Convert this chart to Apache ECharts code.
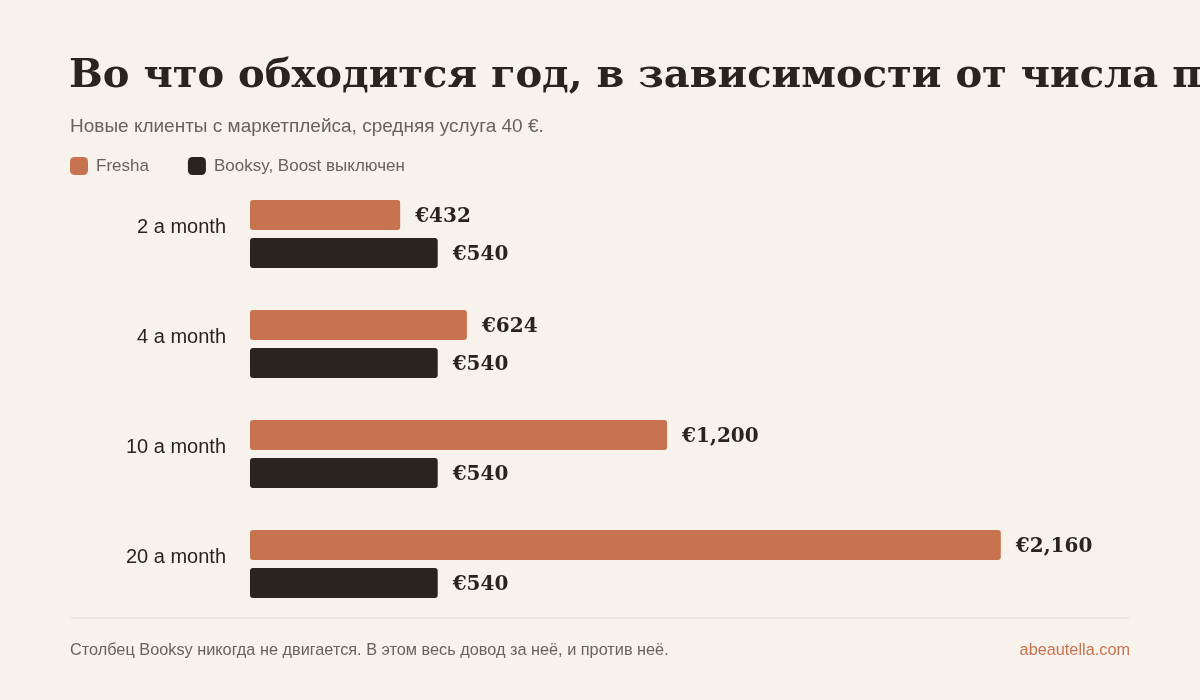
<!DOCTYPE html>
<html lang="ru">
<head>
	<meta charset="UTF-8">
	<title>Fresha vs Booksy</title>
	<script src="https://cdn.jsdelivr.net/npm/echarts@6/dist/echarts.min.js"></script>
	<style>
		html, body { margin: 0; padding: 0; background: #f7f2ec; }
		#chart { width: 1200px; height: 700px; }
	</style>
</head>
<body>
	<div id="chart"></div>
	<script>
	// data
	var categories = ['2 a month', '4 a month', '10 a month', '20 a month'];
	var fresha = [432, 624, 1200, 2160];
	var booksy = [540, 540, 540, 540];
	var seriesNames = ['Fresha', 'Booksy, Boost выключен'];

	var ORANGE = '#c8734f';
	var DARK = '#2a2420';
	var GREY = '#6b625b';
	var SANS = '"Liberation Sans", Arial, sans-serif';
	var SERIF = '"DejaVu Serif", Georgia, serif';

	var myChart = echarts.init(document.getElementById('chart'));

	function euro(p) {
		return '€' + p.value.toLocaleString('en-US');
	}

	var option = {
		backgroundColor: '#f7f2ec',
		title: [
			{
				text: 'Во что обходится год, в зависимости от числа приведённых клиентов',
				left: 69,
				top: 57,
				padding: 0,
				textStyle: { fontFamily: SERIF, fontWeight: 'bold', fontSize: 40, color: DARK }
			},
			{
				text: 'Новые клиенты с маркетплейса, средняя услуга 40 €.',
				left: 70,
				top: 117,
				padding: 0,
				textStyle: { fontFamily: SANS, fontWeight: 'normal', fontSize: 19, color: GREY }
			}
		],
		legend: {
			left: 70,
			top: 157,
			padding: 0,
			itemWidth: 18,
			itemHeight: 18,
			itemGap: 39,
			icon: 'roundRect',
			data: seriesNames,
			textStyle: { fontFamily: SANS, fontSize: 17, color: GREY, padding: [0, 0, 0, 3] }
		},
		grid: { left: 250, right: 81, top: 179, bottom: 81 },
		xAxis: {
			type: 'value',
			min: 0,
			max: 2500,
			show: false
		},
		yAxis: {
			type: 'category',
			inverse: true,
			data: categories,
			axisLine: { show: false },
			axisTick: { show: false },
			axisLabel: {
				margin: 24,
				fontFamily: SANS,
				fontSize: 20,
				color: DARK,
				verticalAlign: 'bottom',
				lineHeight: 14
			}
		},
		series: [
			{
				name: seriesNames[0],
				type: 'bar',
				data: fresha,
				barWidth: 30,
				barGap: '27%',
				itemStyle: { color: ORANGE, borderRadius: 3 },
				label: {
					show: true,
					position: 'right',
					distance: 15,
					offset: [0, 2],
					formatter: euro,
					fontFamily: SERIF,
					fontWeight: 'bold',
					fontSize: 20,
					color: DARK
				}
			},
			{
				name: seriesNames[1],
				type: 'bar',
				data: booksy,
				barWidth: 30,
				itemStyle: { color: DARK, borderRadius: 3 },
				label: {
					show: true,
					position: 'right',
					distance: 15,
					offset: [0, 2],
					formatter: euro,
					fontFamily: SERIF,
					fontWeight: 'bold',
					fontSize: 20,
					color: DARK
				}
			}
		],
		graphic: [
			{
				type: 'line',
				shape: { x1: 70, y1: 618, x2: 1130, y2: 618 },
				style: { stroke: '#e6dfd7', lineWidth: 1 }
			},
			{
				type: 'text',
				left: 70,
				top: 643,
				style: {
					text: 'Столбец Booksy никогда не двигается. В этом весь довод за неё, и против неё.',
					font: '16.3px ' + SANS,
					fill: GREY
				}
			},
			{
				type: 'text',
				right: 70,
				top: 643,
				style: {
					text: 'abeautella.com',
					font: '16.3px ' + SANS,
					fill: ORANGE
				}
			}
		]
	};

	myChart.setOption(option);
	</script>
</body>
</html>
